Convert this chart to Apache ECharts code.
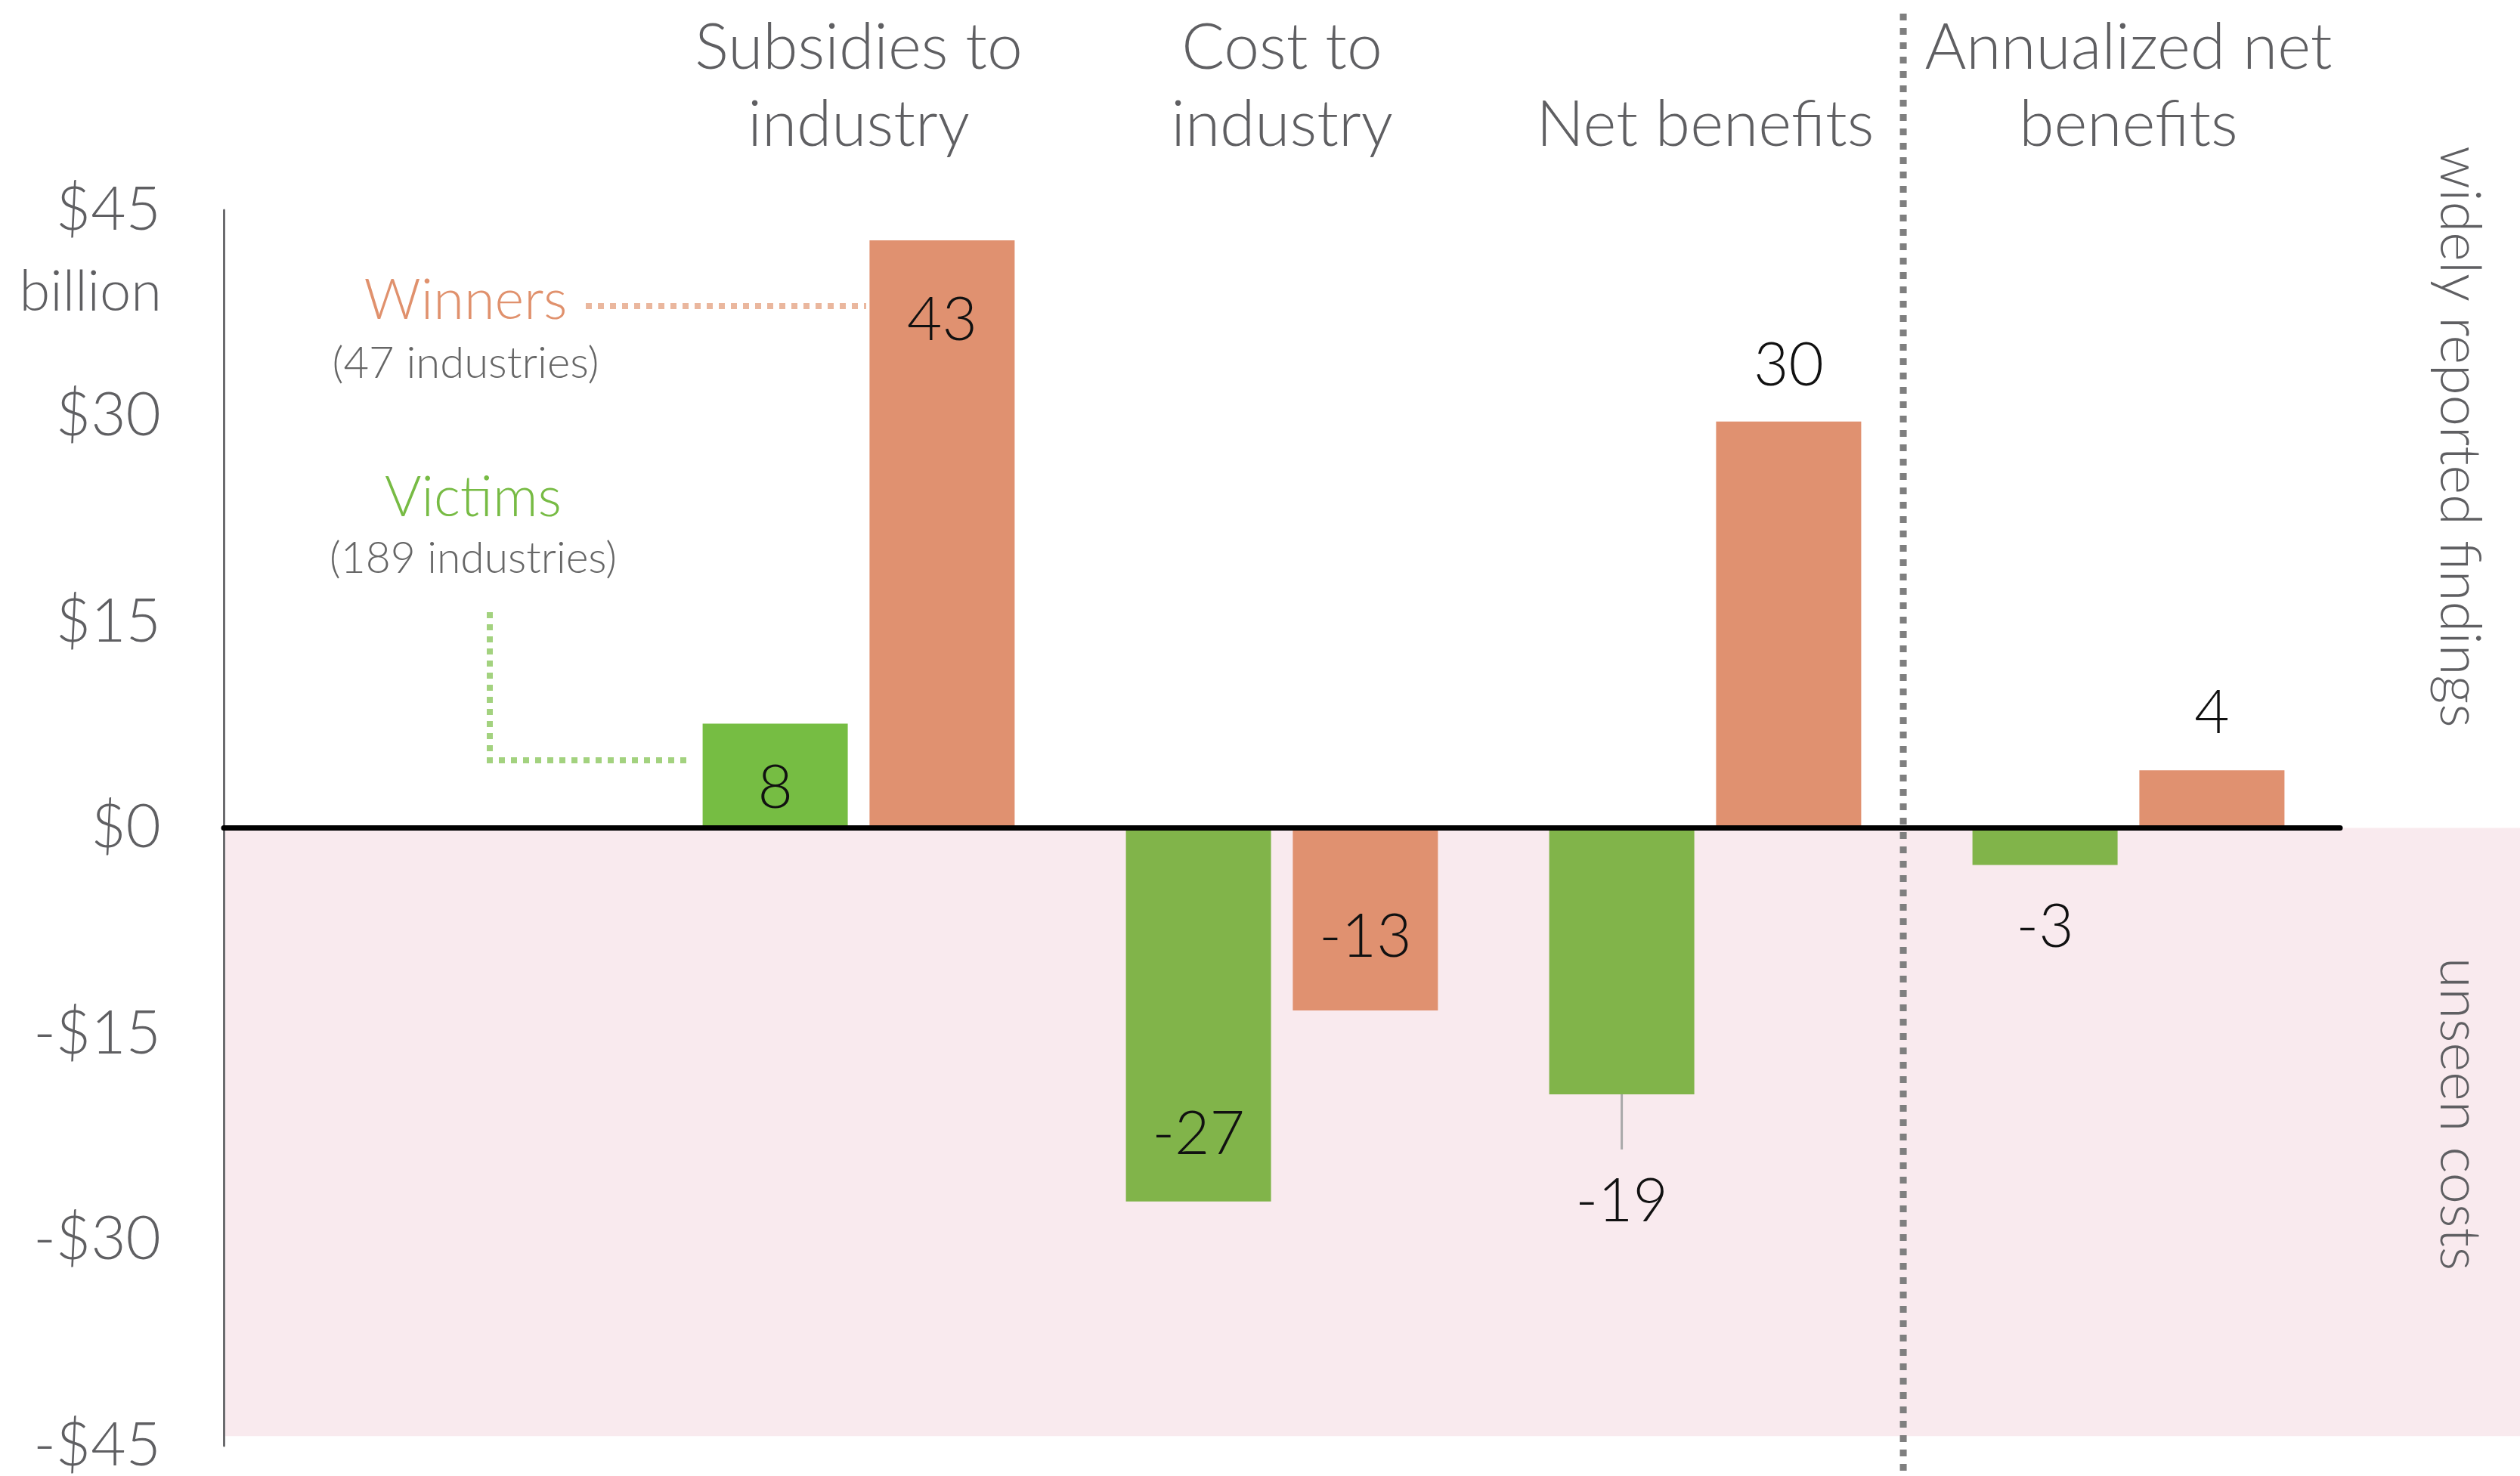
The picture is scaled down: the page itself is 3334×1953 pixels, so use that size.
<!DOCTYPE html>
<html lang="en">
<head>
<meta charset="UTF-8">
<title>Winners and victims</title>
<script src="https://cdn.jsdelivr.net/npm/echarts@6/dist/echarts.min.js"></script>
<style>html,body{margin:0;background:#fff;}</style>
</head>
<body>
<div id="main" style="width:3334px;height:1953px;"></div>
<script>
    // categories, the first slot is left empty for the annotations
    var categories = ['', 'Subsidies to\nindustry', 'Cost to\nindustry', 'Net benefits', 'Annualized net\nbenefits'];
    // $ billion (labels are rounded)
    var victims = ['-', 7.6, -27.2, -19.4, -2.7];
    var winners = ['-', 42.8, -13.3, 29.6, 4.2];
    var yMin = -45, yMax = 45, yStep = 15;
    var unseenFloor = -44.3;

    var green = '#81b44a', greenBright = '#76bd43', orange = '#e09170';
    var grey = '#5f5f62';
    var font = 'Lato';

    // where each value label goes (style only)
    var victimLabelPos = [null, ['insideBottom', 12], ['insideBottom', 48], ['leader', 0], ['bottom', 43]];
    var winnerLabelPos = [null, ['insideTop', 66], ['insideTop', 105], ['top', 34], ['top', 35]];
    var victimColors = [green, greenBright, green, green, green];

    function makeData(values, posList, colors) {
        return values.map(function (v, i) {
            if (v === '-') return '-';
            var p = posList[i];
            var item = {value: v, label: {position: p[0], distance: p[1]}};
            if (p[0] === 'leader') {
                // thin grey stem then the number under it
                item.label = {position: 'bottom', distance: 0, formatter: '{l|}\n{v|' + Math.round(v) + '}'};
            }
            if (colors) item.itemStyle = {color: colors[i]};
            return item;
        });
    }

    var valueLabel = {
        show: true,
        fontSize: 80,
        fontWeight: 300,
        fontFamily: font,
        color: '#111',
        formatter: function (p) { return Math.round(p.value); },
        rich: {
            l: {width: 3, height: 73, backgroundColor: '#a9a9a9'},
            v: {fontSize: 80, fontWeight: 300, fontFamily: font, color: '#111', lineHeight: 138}
        }
    };

    var option = {
        animation: false,
        textStyle: {fontFamily: font},
        grid: {left: 296, right: 238, top: 278, bottom: 37},
        xAxis: [
            {
                type: 'category',
                data: categories,
                z: 10,
                axisLine: {onZero: true, lineStyle: {color: '#000', width: 7}},
                axisTick: {show: false},
                axisLabel: {show: false}
            },
            {
                type: 'category',
                data: categories,
                position: 'top',
                axisLine: {show: false, onZero: false},
                axisTick: {show: false},
                axisLabel: {
                    interval: 0, margin: 61, fontSize: 84, fontWeight: 300,
                    lineHeight: 102, color: grey
                }
            }
        ],
        yAxis: {
            type: 'value',
            min: yMin, max: yMax, interval: yStep,
            z: 3,
            axisLine: {show: true, lineStyle: {color: '#6b6b6e', width: 3}},
            axisTick: {show: false},
            splitLine: {show: false},
            axisLabel: {
                margin: 83, fontSize: 80, fontWeight: 300, color: grey,
                formatter: function (v) { return v < 0 ? '-$' + (-v) : '$' + v; }
            }
        },
        series: [
            {
                name: 'Victims',
                type: 'bar',
                barWidth: 192,
                barGap: '15%',
                itemStyle: {color: green},
                label: valueLabel,
                data: makeData(victims, victimLabelPos, victimColors)
            },
            {
                name: 'Winners',
                type: 'bar',
                barWidth: 192,
                barGap: '15%',
                itemStyle: {color: orange},
                label: valueLabel,
                data: makeData(winners, winnerLabelPos)
            }
        ]
    };

    var myChart = echarts.init(document.getElementById('main'));
    myChart.setOption(option);

    // background band + annotations, placed from the axes
    var y0 = myChart.convertToPixel({yAxisIndex: 0}, 0);
    var yFloor = myChart.convertToPixel({yAxisIndex: 0}, unseenFloor);
    var x3 = myChart.convertToPixel({xAxisIndex: 0}, 3);
    var x4 = myChart.convertToPixel({xAxisIndex: 0}, 4);
    var divX = x3 + (x4 - x3) * 0.468;

    function txt(s, x, y, size, color, align, rot) {
        return {
            type: 'text', x: x, y: y, rotation: rot || 0, z: 20,
            style: {
                text: s, fontSize: size, fontWeight: 300, fontFamily: font,
                fill: color, align: align || 'center', verticalAlign: 'middle'
            }
        };
    }

    myChart.setOption({
        graphic: [
            {
                type: 'rect', z: 0,
                shape: {x: 296, y: y0, width: 3334 - 296, height: yFloor - y0},
                style: {fill: '#f9eaee'}
            },
            {
                type: 'line', z: 5,
                shape: {x1: divX, y1: 18, x2: divX, y2: 1953},
                style: {stroke: '#7f7f7f', lineWidth: 9, lineDash: [9, 10]}
            },
            {
                type: 'line', z: 5,
                shape: {x1: 775, y1: 405, x2: 1146, y2: 405},
                style: {stroke: '#eab79e', lineWidth: 8, lineDash: [8, 8]}
            },
            {
                type: 'polyline', z: 5,
                shape: {points: [[648, 810], [648, 1006], [913, 1006]]},
                style: {stroke: '#a3d27f', lineWidth: 8, lineDash: [8, 8], fill: null}
            },
            txt('billion', 214, 387, 74, grey, 'right'),
            txt('Winners', 616, 398, 74, '#e0916d'),
            txt('(47 industries)', 616, 481, 58, '#666'),
            txt('Victims', 626, 659, 74, '#77bb44'),
            txt('(189 industries)', 626, 740, 57, '#666'),
            txt('widely reported findings', 3253, 578, 74, grey, 'center', -Math.PI / 2),
            txt('unseen costs', 3253, 1474, 74, grey, 'center', -Math.PI / 2)
        ]
    });
</script>
</body>
</html>
